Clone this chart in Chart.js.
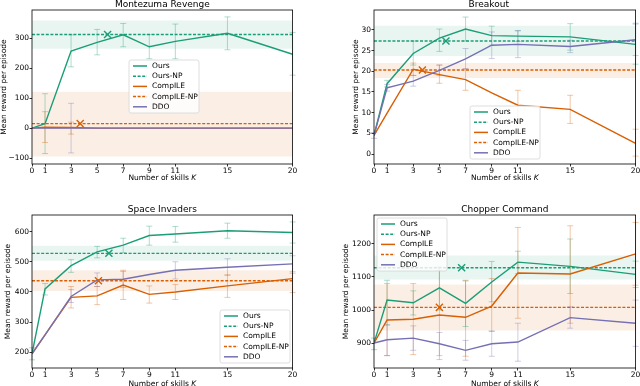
<!DOCTYPE html>
<html lang="en">
<head>
<meta charset="UTF-8">
<title>Mean reward vs number of skills</title>
<script src="https://cdn.jsdelivr.net/npm/chart.js@4"></script>
<style>
    body, html {
        margin: 0;
        width: 640px;
        height: 386px;
        overflow: hidden;
        background: #fff;
    }
    canvas { position: absolute; }
</style>
</head>
<body>
<canvas id="mont"></canvas>
<canvas id="brk"></canvas>
<canvas id="space"></canvas>
<canvas id="chop"></canvas>
<script>
// x positions (number of skills K)
const skillsK = [0, 1, 3, 5, 7, 9, 11, 15, 20];
const legendLabels = ['Ours', 'Ours-NP', 'CompILE', 'CompILE-NP', 'DDO'];

// Montezuma Revenge
const montOurs = [0, 15, 258, 287, 312, 272, 290, 317, 247];
const montOursErr = [null, [-85, 115], [205, 312], [245, 330], [272, 350], [232, 313], [232, 348], [262, 372], [177, 320]];
const montCompile = [0, 3, 2, 0, 0, 0, 0, 0, 0];
const montCompileErr = [null, [-48, 55], [-20, 20], null, null, null, null, null, null];
const montDdo = [0, 0, 0, 0, 0, 0, 0, 0, 0];
const montDdoErr = [null, null, [-83, 83], null, null, null, null, null, null];
const montOursNP = 313, montOursNPBand = [265, 360], montOursNPK = 5.8;
const montCompileNP = 15, montCompileNPBand = [-95, 122], montCompileNPK = 3.7;
const montYTicks = [-100, 0, 100, 200, 300];

// Breakout
const brkOurs = [4.5, 17, 24.3, 28, 30.2, 28.6, 28.5, 28.3, 26.5];
const brkOursErr = [null, [16.2, 17.8], [21.5, 27.3], [24.8, 30.2], [27.3, 33.1], [26.3, 30.9], [27.2, 29.8], [25.1, 31.5], [21.7, 31.6]];
const brkCompile = [4.5, 9.9, 20.5, 19.2, 18, 14.8, 11.8, 10.8, 2.6];
const brkCompileErr = [null, null, [19, 22], [17.1, 21.5], [15.4, 20.6], null, [8.5, 15.4], [7.4, 14.2], [-0.5, 6]];
const brkDdo = [4.5, 16, 17.6, 20.2, 23, 26.3, 26.5, 26, 27.6];
const brkDdoErr = [[3.8, 5.2], [15.2, 16.8], [16.4, 19], [19, 21.5], [20.6, 25.5], [23.1, 29.5], [23.3, 29.8], [24.5, 27.5], [23.8, 31.4]];
const brkOursNP = 27.3, brkOursNPBand = [23.7, 31.0], brkOursNPK = 5.5;
const brkCompileNP = 20.3, brkCompileNPBand = [18.4, 22.0], brkCompileNPK = 3.7;
const brkYTicks = [0, 5, 10, 15, 20, 25, 30];

// Space Invaders
const spaceOurs = [195, 410, 487, 533, 555, 587, 592, 603, 597];
const spaceOursErr = [[175, 215], [390, 428], [465, 507], [513, 551], [530, 578], [555, 618], [565, 617], [578, 628], [562, 632]];
const spaceCompile = [195, 258, 382, 387, 423, 392, 400, 420, 444];
const spaceCompileErr = [null, null, [347, 418], [358, 418], [375, 472], [363, 420], [375, 425], [382, 457], [398, 462]];
const spaceDdo = [195, 258, 385, 440, 442, 458, 472, 482, 493];
const spaceDdoErr = [null, null, [365, 408], [418, 463], [415, 468], null, [443, 500], [455, 510], [467, 520]];
const spaceOursNP = 528, spaceOursNPBand = [503, 553], spaceOursNPK = 5.9;
const spaceCompileNP = 437, spaceCompileNPBand = [403, 472], spaceCompileNPK = 5.1;
const spaceYTicks = [200, 300, 400, 500, 600];

// Chopper Command
const chopOurs = [900, 1030, 1022, 1067, 1020, 1085, 1145, 1132, 1108];
const chopOursErr = [[880, 915], [955, 1090], [985, 1058], [1000, 1130], [950, 1088], [1025, 1147], [1110, 1178], [1050, 1215], [1068, 1148]];
const chopCompile = [900, 970, 972, 985, 978, 1012, 1112, 1109, 1170];
const chopCompileErr = [null, [862, 1080], [865, 1080], [850, 1120], [860, 1090], [935, 1095], [975, 1250], [960, 1255], [1075, 1265]];
const chopDdo = [900, 910, 915, 898, 878, 898, 903, 977, 960];
const chopDdoErr = [null, [862, 955], [878, 952], [862, 932], [848, 908], [860, 937], [845, 960], [945, 1010], [890, 1030]];
const chopOursNP = 1128, chopOursNPBand = [1092, 1165], chopOursNPK = 6.7;
const chopCompileNP = 1008, chopCompileNPBand = [938, 1077], chopCompileNPK = 5.0;
const chopYTicks = [900, 1000, 1100, 1200];

const GREEN = '#1b9e77', ORANGE = '#d95f02', PURPLE = '#7570b3';
const FONT = '"DejaVu Sans", sans-serif';

Chart.defaults.font.family = FONT;
Chart.defaults.font.size = 7.5;
Chart.defaults.color = '#000';

function rgba(hex, a) {
    const n = parseInt(hex.slice(1), 16);
    return `rgba(${n >> 16}, ${(n >> 8) & 255}, ${n & 255}, ${a})`;
}

const legendStyle = [
    {color: GREEN, dash: []},
    {color: GREEN, dash: [3, 1.6]},
    {color: ORANGE, dash: []},
    {color: ORANGE, dash: [3, 1.6]},
    {color: PURPLE, dash: []}
];

// error bars, frame, titles and the inset legend
const decorPlugin = {
    id: 'decor',
    beforeDatasetDraw(chart, args) {
        const ds = chart.data.datasets[args.index];
        if (!ds.errorBars) return;
        const ctx = chart.ctx, xs = chart.scales.x, ys = chart.scales.y;
        ctx.save();
        ctx.strokeStyle = rgba(ds.borderColor, 0.35);
        ctx.lineWidth = 1;
        ds.errorBars.forEach((e, i) => {
            if (!e) return;
            const px = xs.getPixelForValue(skillsK[i]);
            const p0 = ys.getPixelForValue(e[0]), p1 = ys.getPixelForValue(e[1]);
            ctx.beginPath();
            ctx.moveTo(px, p0); ctx.lineTo(px, p1);
            ctx.moveTo(px - 3, p0); ctx.lineTo(px + 3, p0);
            ctx.moveTo(px - 3, p1); ctx.lineTo(px + 3, p1);
            ctx.stroke();
        });
        ctx.restore();
    },
    afterDraw(chart, args, opts) {
        const ctx = chart.ctx, a = chart.chartArea;
        const cx = (a.left + a.right) / 2;
        ctx.save();
        ctx.strokeStyle = '#000';
        ctx.lineWidth = 0.8;
        ctx.strokeRect(a.left, a.top, a.width, a.height);

        ctx.fillStyle = '#000';
        ctx.textBaseline = 'alphabetic';
        ctx.textAlign = 'center';
        ctx.font = '9px ' + FONT;
        ctx.fillText(opts.title, cx + opts.titleShift, a.top - 2.6);

        // x axis label with italic K
        ctx.textBaseline = 'middle';
        const t1 = 'Number of skills ';
        ctx.font = '7.5px ' + FONT;
        const w1 = ctx.measureText(t1).width;
        ctx.font = 'italic 7.5px ' + FONT;
        const w2 = ctx.measureText('K').width;
        const sx = cx - (w1 + w2) / 2;
        ctx.textAlign = 'left';
        ctx.font = '7.5px ' + FONT;
        ctx.fillText(t1, sx, a.bottom + opts.xTitleOffset);
        ctx.font = 'italic 7.5px ' + FONT;
        ctx.fillText('K', sx + w1, a.bottom + opts.xTitleOffset);

        // legend box
        const lx = opts.legendX, ly = opts.legendY;
        ctx.fillStyle = 'rgba(255,255,255,0.8)';
        ctx.strokeStyle = '#d6d6d6';
        ctx.lineWidth = 0.8;
        ctx.beginPath();
        ctx.roundRect(lx, ly, 70, 53, 2);
        ctx.fill();
        ctx.stroke();
        ctx.font = '7.5px ' + FONT;
        legendLabels.forEach((lab, i) => {
            const y = ly + 6 + i * 10.2;
            ctx.strokeStyle = legendStyle[i].color;
            ctx.lineWidth = 1.5;
            ctx.setLineDash(legendStyle[i].dash);
            ctx.beginPath();
            ctx.moveTo(lx + 4, y);
            ctx.lineTo(lx + 18, y);
            ctx.stroke();
            ctx.setLineDash([]);
            ctx.fillStyle = '#000';
            ctx.fillText(lab, lx + 23, y);
        });
        ctx.restore();
    }
};

function buildPanel(id, title, titleShift, geo, legendPos, yMin, yMax, yTicks, d) {
    const th = 11;
    const cTop = geo.CT - th;
    const xh = geo.XT - geo.CB + 5;
    const W = geo.CR - geo.L + 6;
    const H = geo.CB - cTop + xh;
    const cv = document.getElementById(id);
    cv.width = W; cv.height = H;
    cv.style.left = geo.L + 'px'; cv.style.top = cTop + 'px';
    cv.style.width = W + 'px'; cv.style.height = H + 'px';

    const pts = ys => skillsK.map((k, i) => ({x: k, y: ys[i]}));
    const flat = v => [{x: 0, y: v}, {x: 20, y: v}];
    const line = (data, color, extra) => Object.assign({
        data, borderColor: color, borderWidth: 1.4, pointRadius: 0, fill: false, tension: 0
    }, extra);

    const tickGrid = {drawOnChartArea: false, drawTicks: true, tickLength: 2.5, color: '#000', lineWidth: 0.8};

    new Chart(cv, {
        type: 'line',
        data: {
            datasets: [
                line(flat(d.oursBand[0]), GREEN, {borderWidth: 0, order: 9}),
                line(flat(d.oursBand[1]), GREEN, {borderWidth: 0, order: 9, fill: '-1', backgroundColor: rgba(GREEN, 0.1)}),
                line(flat(d.compBand[0]), ORANGE, {borderWidth: 0, order: 9}),
                line(flat(d.compBand[1]), ORANGE, {borderWidth: 0, order: 9, fill: '-1', backgroundColor: rgba(ORANGE, 0.1)}),
                line(flat(d.oursNP), GREEN, {borderDash: [3, 1.6], order: 6}),
                line(flat(d.compNP), ORANGE, {borderDash: [3, 1.6], order: 6}),
                line(pts(d.ddo), PURPLE, {order: 3, errorBars: d.ddoErr}),
                line(pts(d.comp), ORANGE, {order: 3, errorBars: d.compErr}),
                line(pts(d.ours), GREEN, {order: 3, errorBars: d.oursErr}),
                {data: [{x: d.oursNPK, y: d.oursNP}], showLine: false, pointStyle: 'crossRot',
                 pointRadius: 5, borderColor: GREEN, borderWidth: 1.4, order: 1},
                {data: [{x: d.compNPK, y: d.compNP}], showLine: false, pointStyle: 'crossRot',
                 pointRadius: 5, borderColor: ORANGE, borderWidth: 1.4, order: 1}
            ]
        },
        options: {
            responsive: false,
            animation: false,
            events: [],
            layout: {padding: {top: th, left: 0, right: 6, bottom: 0}},
            plugins: {
                legend: {display: false},
                tooltip: {enabled: false},
                decor: {
                    title,
                    titleShift,
                    xTitleOffset: geo.XT - geo.CB,
                    legendX: legendPos[0] - geo.L,
                    legendY: legendPos[1] - cTop
                }
            },
            scales: {
                x: {
                    type: 'linear', min: 0, max: 20,
                    afterBuildTicks: s => { s.ticks = skillsK.map(v => ({value: v})); },
                    afterFit: s => { s.height = xh; },
                    grid: tickGrid,
                    border: {display: false},
                    ticks: {autoSkip: false, maxRotation: 0, padding: 0}
                },
                y: {
                    min: yMin, max: yMax,
                    afterBuildTicks: s => { s.ticks = yTicks.map(v => ({value: v})); },
                    afterFit: s => { s.width = geo.CL - geo.L; },
                    grid: tickGrid,
                    border: {display: false},
                    ticks: {padding: 0.5, callback: v => String(v).replace('-', '\u2212')},
                    title: {display: true, text: 'Mean reward per episode', padding: 0}
                }
            }
        },
        plugins: [decorPlugin]
    });
}

buildPanel('mont', 'Montezuma Revenge', 0, {L: 0, CL: 32, CR: 293, CT: 10, CB: 164, XT: 178}, [129, 60],
    -120, 395, montYTicks,
    {ours: montOurs, oursErr: montOursErr, comp: montCompile, compErr: montCompileErr, ddo: montDdo, ddoErr: montDdoErr,
     oursNP: montOursNP, oursBand: montOursNPBand, oursNPK: montOursNPK,
     compNP: montCompileNP, compBand: montCompileNPBand, compNPK: montCompileNPK});

buildPanel('brk', 'Breakout', -16, {L: 352, CL: 374, CR: 636, CT: 10, CB: 164, XT: 178}, [470, 106],
    -2.4, 34.8, brkYTicks,
    {ours: brkOurs, oursErr: brkOursErr, comp: brkCompile, compErr: brkCompileErr, ddo: brkDdo, ddoErr: brkDdoErr,
     oursNP: brkOursNP, oursBand: brkOursNPBand, oursNPK: brkOursNPK,
     compNP: brkCompileNP, compBand: brkCompileNPBand, compNPK: brkCompileNPK});

buildPanel('space', 'Space Invaders', 0, {L: 4, CL: 32, CR: 293, CT: 215, CB: 368, XT: 384}, [220, 310],
    148, 655, spaceYTicks,
    {ours: spaceOurs, oursErr: spaceOursErr, comp: spaceCompile, compErr: spaceCompileErr, ddo: spaceDdo, ddoErr: spaceDdoErr,
     oursNP: spaceOursNP, oursBand: spaceOursNPBand, oursNPK: spaceOursNPK,
     compNP: spaceCompileNP, compBand: spaceCompileNPBand, compNPK: spaceCompileNPK});

buildPanel('chop', 'Chopper Command', 0, {L: 342, CL: 374, CR: 636, CT: 215, CB: 368, XT: 384}, [377, 218],
    824.5, 1287.6, chopYTicks,
    {ours: chopOurs, oursErr: chopOursErr, comp: chopCompile, compErr: chopCompileErr, ddo: chopDdo, ddoErr: chopDdoErr,
     oursNP: chopOursNP, oursBand: chopOursNPBand, oursNPK: chopOursNPK,
     compNP: chopCompileNP, compBand: chopCompileNPBand, compNPK: chopCompileNPK});
</script>
</body>
</html>
